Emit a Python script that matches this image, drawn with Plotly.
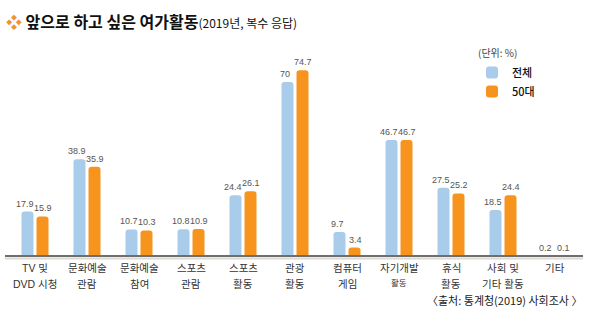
import plotly.graph_objects as go

categories = ["TV 및<br>DVD 시청", "문화예술<br>관람", "문화예술<br>참여", "스포츠<br>관람", "스포츠<br>활동",
              "관광<br>활동", "컴퓨터<br>게임", "자기개발<br>활동", "휴식<br>활동", "사회 및<br>기타 활동", "기타"]
label_line1 = ["TV 및", "문화예술", "문화예술", "스포츠", "스포츠", "관광", "컴퓨터", "자기개발", "휴식", "사회 및", "기타"]
label_line2 = ["DVD 시청", "관람", "참여", "관람", "활동", "활동", "게임", "활동", "활동", "기타 활동", ""]
total_values = [17.9, 38.9, 10.7, 10.8, 24.4, 70, 9.7, 46.7, 27.5, 18.5, 0.2]
fifties_values = [15.9, 35.9, 10.3, 10.9, 26.1, 74.7, 3.4, 46.7, 25.2, 24.4, 0.1]
series_names = ["전체", "50대"]

BLUE = "#A9CCEA"
ORANGE = "#F7941D"
FONT = "Liberation Sans, Noto Sans CJK KR, sans-serif"
KFONT = "Noto Sans CJK KR, sans-serif"

W, H = 591, 322
ML, MR, MT, MB = 9, 10, 40, 66
PH = H - MT - MB
PW = W - ML - MR
PX_PER_UNIT = 2.485
ymax = PH / PX_PER_UNIT

def px_x(px):
    return (px - ML) / PW

def px_y(py):
    return (H - MB - py) / PH

def fmt(v):
    return ("%g" % v)

fig = go.Figure()
for name, vals, col in [(series_names[0], total_values, BLUE), (series_names[1], fifties_values, ORANGE)]:
    fig.add_trace(go.Bar(
        x=categories, y=vals, name=name,
        marker=dict(color=col, line=dict(width=0)),
        cliponaxis=False,
    ))

# value labels, placed over each bar through the data scales
for vals, xs in [(total_values, -10), (fifties_values, 8)]:
    for cat, v in zip(categories, vals):
        fig.add_annotation(x=cat, xref="x", y=v, yref="y", yanchor="bottom",
                           xshift=xs, yshift=1, text=fmt(v), showarrow=False,
                           font=dict(family=FONT, size=9, color="#555555"))

fig.update_layout(
    width=W, height=H,
    margin=dict(l=ML, r=MR, t=MT, b=MB),
    paper_bgcolor="white", plot_bgcolor="white",
    barmode="group", bargap=0.423, bargroupgap=0.2, barcornerradius=3,
    showlegend=True,
    legend=dict(
        x=px_x(472), y=px_y(58),
        xanchor="left", yanchor="top",
        font=dict(family=KFONT, size=11, color="#111111", weight=500),
        bgcolor="rgba(0,0,0,0)", itemwidth=30, tracegroupgap=4,
    ),
    title=dict(
        text="<span style='color:#F0913A'>❖</span> <b>앞으로 하고 싶은 여가활동</b><span style='font-size:12px'>(2019년, 복수 응답)</span>",
        x=6 / W, xanchor="left", y=1 - 22 / H, yanchor="middle",
        font=dict(family=KFONT, size=16, color="#111111"),
    ),
    xaxis=dict(showticklabels=False, showline=False, showgrid=False, zeroline=False, ticks=""),
    yaxis=dict(range=[0, ymax], visible=False, showgrid=False, zeroline=False),
)

# baseline
fig.add_shape(type="line", xref="paper", yref="paper", x0=px_x(5), x1=px_x(583), y0=0, y1=0,
              line=dict(color="#6E6E6E", width=2))
fig.add_shape(type="line", xref="paper", yref="paper", x0=px_x(5), x1=px_x(583),
              y0=-2.5 / PH, y1=-2.5 / PH,
              line=dict(color="#DCDAD0", width=2))

# unit label
fig.add_annotation(x=px_x(476), xref="paper", y=px_y(52), yref="paper", xanchor="left", yanchor="middle",
                   text="(단위: %)", showarrow=False,
                   font=dict(family=KFONT, size=10, color="#444444"))

# category labels (two lines)
for i, cat in enumerate(categories):
    fig.add_annotation(x=cat, xref="x", y=0, yref="paper", yanchor="middle",
                       yshift=-12, text=label_line1[i], showarrow=False,
                       font=dict(family=FONT, size=10.5, color="#333333"))
    if label_line2[i]:
        small = label_line1[i] == "자기개발"
        fig.add_annotation(x=cat, xref="x", y=0, yref="paper", yanchor="middle",
                           yshift=-27 if small else -28, text=label_line2[i], showarrow=False,
                           font=dict(family=FONT, size=8.5 if small else 10.5, color="#333333"))

# source
fig.add_annotation(x=px_x(584), xref="paper", y=px_y(300), yref="paper", xanchor="right", yanchor="middle",
                   text="〈출처: 통계청(2019) 사회조사 〉", showarrow=False,
                   font=dict(family=KFONT, size=11, color="#222222"))

fig.write_html("out.html")
